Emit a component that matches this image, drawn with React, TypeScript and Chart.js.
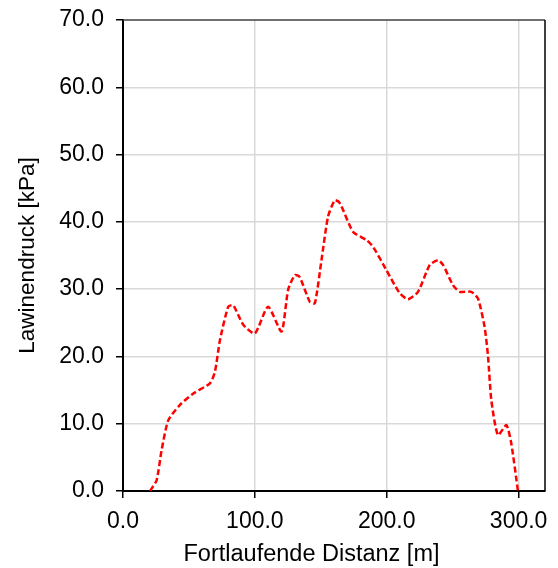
import React, { useEffect, useRef } from "react";
import { Chart, registerables } from "chart.js";

Chart.register(...registerables);

const distance = [20.5, 25.5, 29.3, 34.3, 43.2, 53.3, 65.9, 69.7, 73.5, 79.8, 83.6, 91.2, 100, 110, 120.2, 125.2, 130.3, 134, 141.7, 145.5, 150.5, 155.5, 160.6, 164.4, 174.5, 184.6, 189.6, 199.8, 209.8, 216.1, 223.7, 232.6, 238.9, 242.7, 250.2, 255.3, 264.1, 269.2, 274.2, 276.8, 279.3, 284.3, 290.7, 294.4, 299.5];
const pressure = [0, 1.6, 6.1, 10.5, 12.8, 14.5, 16.0, 17.7, 22.4, 27.4, 27.6, 24.7, 23.4, 27.4, 23.7, 29.9, 32.1, 31.8, 28.1, 27.9, 34.3, 40.8, 43.2, 42.8, 38.5, 37.3, 36.3, 32.8, 29.4, 28.5, 29.6, 33.6, 34.3, 33.6, 30.6, 29.6, 29.6, 28.6, 24.4, 20.0, 13.5, 8.3, 9.8, 7.1, 0];
const xTicks = [0, 100, 200, 300];
const xTitle = "Fortlaufende Distanz [m]";
const yTitle = "Lawinendruck [kPa]";

const FONT = "'Liberation Sans', Arial, sans-serif";

const frame = {
  id: "frame",
  afterDatasetsDraw(chart: any) {
    const { ctx, chartArea: a } = chart;
    ctx.save();
    ctx.strokeStyle = "#404040";
    ctx.lineWidth = 1.5;
    ctx.beginPath();
    ctx.moveTo(a.left, a.top);
    ctx.lineTo(a.right, a.top);
    ctx.stroke();
    ctx.strokeStyle = "#000";
    ctx.beginPath();
    ctx.moveTo(a.right, a.top);
    ctx.lineTo(a.right, a.bottom);
    ctx.stroke();
    ctx.restore();
  },
  afterDraw(chart: any) {
    const { ctx } = chart;
    ctx.save();
    ctx.fillStyle = "#000";
    ctx.font = `23.5px ${FONT}`;
    ctx.textAlign = "center";
    ctx.textBaseline = "alphabetic";
    ctx.fillText(xTitle, 311.5, 561);
    ctx.restore();
  },
};

export default function App() {
  const ref = useRef<HTMLCanvasElement>(null);
  useEffect(() => {
    document.body.style.margin = "0";
    const data = distance.map((x, i) => ({ x, y: pressure[i] }));
    const chart = new Chart(ref.current!, {
      type: "line",
      data: {
        datasets: [
          {
            data,
            borderColor: "#ff0000",
            borderWidth: 2.5,
            borderDash: [6, 3],
            pointRadius: 0,
            tension: 0.2,
            fill: false,
          },
        ],
      },
      plugins: [frame],
      options: {
        animation: false,
        responsive: false,
        layout: { padding: { top: 20, right: 13, left: 0, bottom: 0 } },
        plugins: { legend: { display: false }, tooltip: { enabled: false } },
        scales: {
          x: {
            type: "linear",
            min: 0,
            max: 320,
            afterBuildTicks: (s: any) => {
              s.ticks = xTicks.map((v) => ({ value: v }));
            },
            afterFit: (s: any) => {
              s.height = 77;
              s.paddingLeft = 0;
              s.paddingRight = 0;
            },
            ticks: {
              color: "#000",
              font: { family: FONT, size: 23 },
              padding: 10,
              maxRotation: 0,
              callback: (v: any) => Number(v).toFixed(1),
            },
            grid: {
              color: (c: any) => (c.tick && c.tick.value === 0 ? "rgba(0,0,0,0)" : "#d9d9d9"),
              lineWidth: 1.5,
              tickColor: "#000",
              tickLength: 7,
            },
            border: { color: "#000", width: 2 },
            title: { display: false },
          },
          y: {
            min: 0,
            max: 70,
            afterFit: (s: any) => {
              s.width = 123;
              s.paddingTop = 0;
              s.paddingBottom = 0;
            },
            ticks: {
              stepSize: 10,
              color: "#000",
              font: { family: FONT, size: 23 },
              padding: 12,
              callback: (v: any) => Number(v).toFixed(1),
            },
            grid: {
              color: (c: any) =>
                c.tick && (c.tick.value === 0 || c.tick.value === 70) ? "rgba(0,0,0,0)" : "#d9d9d9",
              lineWidth: 1.5,
              tickColor: "#000",
              tickLength: 7,
            },
            border: { color: "#000", width: 2 },
            title: {
              display: true,
              text: yTitle,
              color: "#000",
              font: { family: FONT, size: 22.5 },
              padding: { top: 14, bottom: 0 },
            },
          },
        },
      },
    });
    return () => chart.destroy();
  }, []);
  return <canvas ref={ref} width={558} height={568} style={{ display: "block" }} />;
}
